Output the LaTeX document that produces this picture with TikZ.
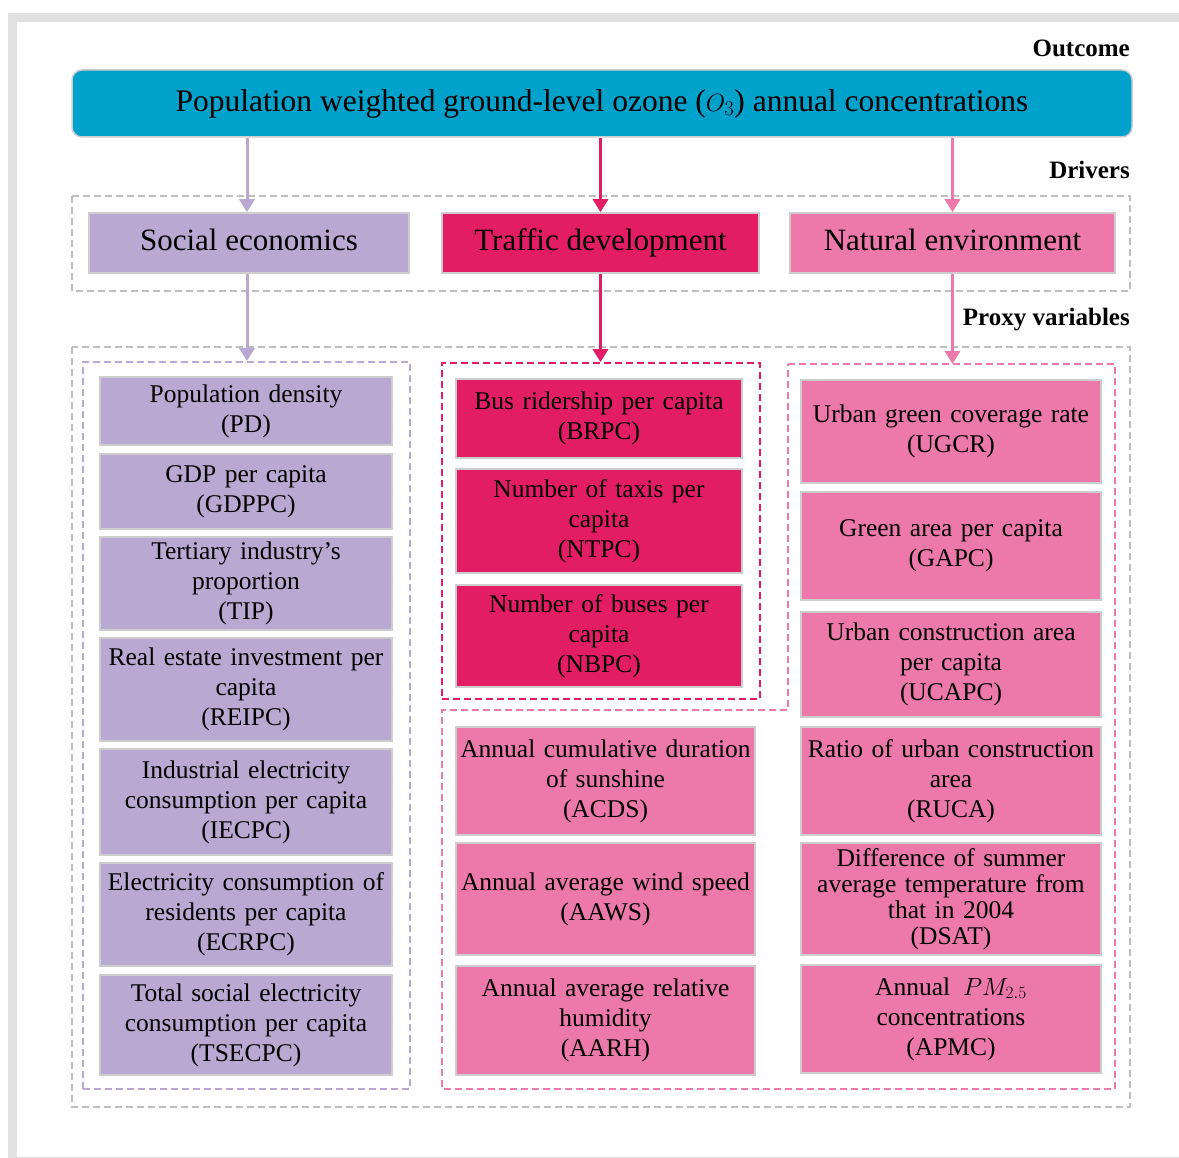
\documentclass[tikz,border=0pt]{standalone}
\usepackage{fontspec}
\setmainfont{Liberation Serif}
\usetikzlibrary{arrows.meta}

\definecolor{ozoneblue}{RGB}{0,161,203}
\definecolor{socpurple}{RGB}{185,168,209}
\definecolor{trafred}{RGB}{227,29,100}
\definecolor{natpink}{RGB}{236,121,169}
\definecolor{boxgray}{RGB}{205,205,205}
\definecolor{dashgray}{RGB}{190,190,190}
\definecolor{framegray}{RGB}{225,225,225}

\begin{document}
\begin{tikzpicture}[x=1pt, y=-1pt,
    item/.style={draw=boxgray, line width=1.5pt, align=center, inner sep=0pt,
      font=\fontsize{25.5}{30}\selectfont},
    driver/.style={item, minimum height=60pt, text height=21pt, text depth=5pt,
      font=\fontsize{31}{36}\selectfont},
    heading/.style={anchor=base east, inner sep=0pt, font=\fontsize{25}{30}\selectfont\bfseries},
    arr/.style={line width=3pt, -{Triangle[width=15pt, length=13pt]}},
    grp/.style={dashed, line width=1.5pt, dash pattern=on 7pt off 4pt},
  ]
    \useasboundingbox (0, 0) rectangle (1179, 1158) ;
    % page frame
    \fill[framegray] (8, 13) rectangle (1190, 22) ;
    \fill[framegray] (8, 13) rectangle (17, 1158) ;
    \draw[framegray, line width=1pt] (17, 1157) -- (1190, 1157) ;

    % outcome
    \node[heading] (outcometxt) at (1130, 57) {Outcome} ;
    \node[draw=boxgray, line width=1.5pt, fill=ozoneblue, rounded corners=10pt,
      minimum width=1060pt, minimum height=67pt, inner sep=0pt,
      font=\fontsize{31.5}{36}\selectfont] (outcome) at (602, 103.5)
      {Population weighted ground-level ozone ($O_3$) annual concentrations} ;

    % drivers
    \node[heading] (driverstxt) at (1130, 179) {Drivers} ;
    \draw[grp, dashgray] (72, 196) rectangle (1130, 291) ;
    \node[driver, fill=socpurple, minimum width=320pt] (soc) at (249, 243) {Social economics} ;
    \node[driver, fill=trafred, minimum width=317pt] (traf) at (600.5, 243) {Traffic development} ;
    \node[driver, fill=natpink, minimum width=325pt] (nat) at (952.5, 243) {Natural environment} ;

    \draw[arr, socpurple] (247, 0 |- outcome.south) -- (247, 0 |- soc.north) ;
    \draw[arr, trafred] (traf |- outcome.south) -- (traf.north) ;
    \draw[arr, natpink] (nat |- outcome.south) -- (nat.north) ;

    % proxy variables
    \node[heading] (proxytxt) at (1130, 326) {Proxy variables} ;
    \draw[grp, dashgray] (72, 347) rectangle (1130, 1107) ;
    \node[grp, draw=socpurple, minimum width=327pt, minimum height=727pt] (socgrp) at (246.5, 725.5) {} ;
    \node[grp, draw=trafred, minimum width=318pt, minimum height=336pt] (trafgrp) at (601, 531) {} ;
    \draw[grp, natpink] (788, 364) -- (1115, 364) -- (1115, 1089) -- (442, 1089)
      -- (442, 710) -- (788, 710) -- cycle ;
    \coordinate (natgrp) at (nat.south |- 0, 364) ;

    \draw[arr, socpurple] (247, 0 |- soc.south) -- (247, 0 |- socgrp.north) ;
    \draw[arr, trafred] (traf.south) -- (traf.south |- trafgrp.north) ;
    \draw[arr, natpink] (nat.south) -- (natgrp) ;

    % social economics
    \begin{scope}[every node/.style={item, fill=socpurple, minimum width=292pt, text width=292pt}]
      \node[minimum height=68pt] (pd) at (246, 411) {Population density\\(PD)} ;
      \node[minimum height=75pt] (gdppc) at (246, 491.5) {GDP per capita\\(GDPPC)} ;
      \node[minimum height=93pt] (tip) at (246, 583.5) {Tertiary industry's\\proportion\\(TIP)} ;
      \node[minimum height=103pt] (reipc) at (246, 689.5) {Real estate investment per\\capita\\(REIPC)} ;
      \node[minimum height=106pt] (iecpc) at (246, 802) {Industrial electricity\\consumption per capita\\(IECPC)} ;
      \node[minimum height=103pt] (ecrpc) at (246, 914.5) {Electricity consumption of\\residents per capita\\(ECRPC)} ;
      \node[minimum height=100pt] (tsecpc) at (246, 1025) {Total social electricity\\consumption per capita\\(TSECPC)} ;
    \end{scope}

    % traffic development
    \begin{scope}[every node/.style={item, fill=trafred, minimum width=286pt, text width=286pt}]
      \node[minimum height=79pt] (brpc) at (599, 418.5) {Bus ridership per capita\\(BRPC)} ;
      \node[minimum height=104pt] (ntpc) at (599, 521) {Number of taxis per\\capita\\(NTPC)} ;
      \node[minimum height=102pt] (nbpc) at (599, 636) {Number of buses per\\capita\\(NBPC)} ;
    \end{scope}

    % natural environment
    \begin{scope}[every node/.style={item, fill=natpink, minimum width=299pt, text width=299pt}]
      \node[minimum height=108pt] (acds) at (605.5, 781) {Annual cumulative duration\\of sunshine\\(ACDS)} ;
      \node[minimum height=112pt] (aaws) at (605.5, 899) {Annual average wind speed\\(AAWS)} ;
      \node[minimum height=109pt] (aarh) at (605.5, 1020.5) {Annual average relative\\humidity\\(AARH)} ;
    \end{scope}
    \begin{scope}[every node/.style={item, fill=natpink, minimum width=300pt, text width=300pt}]
      \node[minimum height=103pt] (ugcr) at (951, 431.5) {Urban green coverage rate\\(UGCR)} ;
      \node[minimum height=108pt] (gapc) at (951, 546) {Green area per capita\\(GAPC)} ;
      \node[minimum height=105pt] (ucapc) at (951, 664.5) {Urban construction area\\per capita\\(UCAPC)} ;
      \node[minimum height=108pt] (ruca) at (951, 781) {Ratio of urban construction\\area\\(RUCA)} ;
      \node[minimum height=112pt, font=\fontsize{25.5}{26}\selectfont] (dsat) at (951, 899)
        {Difference of summer\\average temperature from\\that in 2004\\(DSAT)} ;
      \node[minimum height=108pt] (apmc) at (951, 1019) {Annual \,$PM_{2.5}$\\concentrations\\(APMC)} ;
    \end{scope}
  \end{tikzpicture}
\end{document}
